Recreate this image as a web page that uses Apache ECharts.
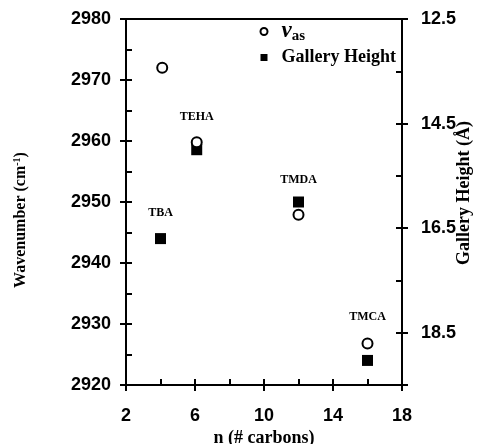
<!DOCTYPE html>
<html>
<head>
<meta charset="utf-8">
<script src="https://cdn.jsdelivr.net/npm/echarts@6/dist/echarts.min.js"></script>
<style>html,body{margin:0;padding:0;background:#fff}#c{width:477px;height:444px}</style>
</head>
<body>
<div id="c"></div>
<script>
// Data
var compounds = ['TBA', 'TEHA', 'TMDA', 'TMCA'];
var carbonsNu = [4.1, 6.1, 12, 16];          // n (# carbons) for νas points
var nuAs = [2972, 2959.8, 2947.9, 2926.8];   // wavenumber (cm-1)
var carbonsGallery = [4.0, 6.1, 12, 16];     // n (# carbons) for gallery height points
var galleryHeight = [16.7, 15.0, 16.0, 19.03]; // gallery height (Å)
var xTicks = [2, 6, 10, 14, 18];
var leftTicks = [2920, 2930, 2940, 2950, 2960, 2970, 2980];
var rightTicks = [12.5, 14.5, 16.5, 18.5];
// which series carries each compound label: 'nu' or 'gal', and label distance
var labelOn = ['gal', 'nu', 'gal', 'nu'];
var labelDist = [14, 13, 11, 15];

var serif = '"Liberation Serif", "DejaVu Serif", serif';
var sans = '"Liberation Sans", Arial, sans-serif';

function makeData(xs, ys, key) {
  return xs.map(function (x, i) {
    var d = { value: [x, ys[i]] };
    if (labelOn[i] === key) {
      d.label = { show: true, position: 'top', distance: labelDist[i], formatter: compounds[i] };
    }
    return d;
  });
}

var labelStyle = { color: '#000', fontFamily: serif, fontWeight: 'bold', fontSize: 12 };
var axLine = { show: true, onZero: false, lineStyle: { color: '#000', width: 2 } };

var chart = echarts.init(document.getElementById('c'), null, { renderer: 'canvas' });
chart.setOption({
  backgroundColor: '#fff',
  animation: false,
  grid: { left: 126, right: 75, top: 19, bottom: 59, containLabel: false, outerBoundsMode: 'none' },
  legend: {
    orient: 'vertical', left: 259.5, top: 20, padding: 0, itemWidth: 7, itemHeight: 7, itemGap: 5,
    data: [{ name: 'νas', icon: 'circle' }, { name: 'Gallery Height', icon: 'rect' }],
    formatter: function (n) { return n === 'νas' ? '{nu|ν}{sub|as}' : '{g|Gallery Height}'; },
    textStyle: {
      color: '#000', padding: [0, 0, 0, 9],
      rich: {
        nu: { fontFamily: serif, fontStyle: 'italic', fontWeight: 'bold', fontSize: 23, color: '#000', lineHeight: 24 },
        sub: { fontFamily: serif, fontWeight: 'bold', fontSize: 15, color: '#000', verticalAlign: 'bottom', lineHeight: 24, padding: [6, 0, 0, 0] },
        g: { fontFamily: serif, fontWeight: 'bold', fontSize: 18, color: '#000' }
      }
    }
  },
  xAxis: [
    { type: 'value', position: 'bottom', min: xTicks[0], max: xTicks[xTicks.length - 1], interval: xTicks[1] - xTicks[0],
      axisLine: axLine, axisTick: { show: true, inside: false, length: 6, lineStyle: { color: '#000', width: 2 } },
      splitLine: { show: false },
      axisLabel: { color: '#000', fontFamily: sans, fontWeight: 'bold', fontSize: 18, margin: 22 },
      name: 'n (# carbons)', nameLocation: 'middle', nameGap: 44, nameMoveOverlap: false,
      nameTextStyle: { color: '#000', fontFamily: serif, fontWeight: 'bold', fontSize: 18 } },
    { type: 'value', position: 'bottom', min: xTicks[0], max: xTicks[xTicks.length - 1], interval: (xTicks[1] - xTicks[0]) / 2,
      axisLine: axLine, axisTick: { show: true, inside: true, length: 6, lineStyle: { color: '#000', width: 2 } },
      splitLine: { show: false }, axisLabel: { show: false } },
    { type: 'value', position: 'top', min: xTicks[0], max: xTicks[xTicks.length - 1],
      axisLine: axLine, axisTick: { show: false }, splitLine: { show: false }, axisLabel: { show: false } }
  ],
  yAxis: [
    { type: 'value', position: 'left', min: leftTicks[0], max: leftTicks[leftTicks.length - 1], interval: 10,
      axisLine: axLine, axisTick: { show: true, inside: false, length: 6, lineStyle: { color: '#000', width: 2 } },
      splitLine: { show: false },
      axisLabel: { color: '#000', fontFamily: sans, fontWeight: 'bold', fontSize: 18, margin: 15,
        formatter: function (v) { return String(v); } },
      name: 'Wavenumber (cm{sup|-1})', nameLocation: 'middle', nameRotate: 90, nameGap: 96, nameMoveOverlap: false,
      nameTextStyle: { color: '#000', fontFamily: serif, fontWeight: 'bold', fontSize: 16, padding: [0, 36, 0, 0],
        rich: { sup: { fontFamily: serif, fontWeight: 'bold', fontSize: 10, color: '#000', verticalAlign: 'top', padding: [0, 0, 8, 0] } } } },
    { type: 'value', position: 'right', inverse: true, min: rightTicks[0], max: 19.5, interval: 2,
      axisLine: axLine, axisTick: { show: true, inside: false, length: 6, lineStyle: { color: '#000', width: 2 } },
      splitLine: { show: false },
      axisLabel: { color: '#000', fontFamily: sans, fontWeight: 'bold', fontSize: 18, margin: 19,
        formatter: function (v) { return rightTicks.indexOf(v) >= 0 ? v.toFixed(1) : ''; } },
      name: 'Gallery Height (Å)', nameLocation: 'middle', nameRotate: 90, nameGap: 53, nameMoveOverlap: false,
      nameTextStyle: { color: '#000', fontFamily: serif, fontWeight: 'bold', fontSize: 18, padding: [0, 0, 0, 18] } },
    { type: 'value', position: 'left', min: leftTicks[0], max: leftTicks[leftTicks.length - 1], interval: 5,
      axisLine: axLine, axisTick: { show: true, inside: true, length: 6, lineStyle: { color: '#000', width: 2 } },
      splitLine: { show: false }, axisLabel: { show: false } },
    { type: 'value', position: 'right', inverse: true, min: rightTicks[0], max: 19.5, interval: 1,
      axisLine: axLine, axisTick: { show: true, inside: true, length: 6, lineStyle: { color: '#000', width: 2 } },
      splitLine: { show: false }, axisLabel: { show: false } }
  ],
  series: [
    { name: 'νas', type: 'scatter', xAxisIndex: 0, yAxisIndex: 0, symbol: 'circle', symbolSize: 10,
      itemStyle: { color: '#fff', borderColor: '#000', borderWidth: 2, opacity: 1 },
      label: labelStyle, z: 3,
      data: makeData(carbonsNu, nuAs, 'nu') },
    { name: 'Gallery Height', type: 'scatter', xAxisIndex: 0, yAxisIndex: 1, symbol: 'rect', symbolSize: 11,
      itemStyle: { color: '#000', opacity: 1 },
      label: labelStyle, z: 2,
      data: makeData(carbonsGallery, galleryHeight, 'gal') }
  ]
});
</script>
</body>
</html>
